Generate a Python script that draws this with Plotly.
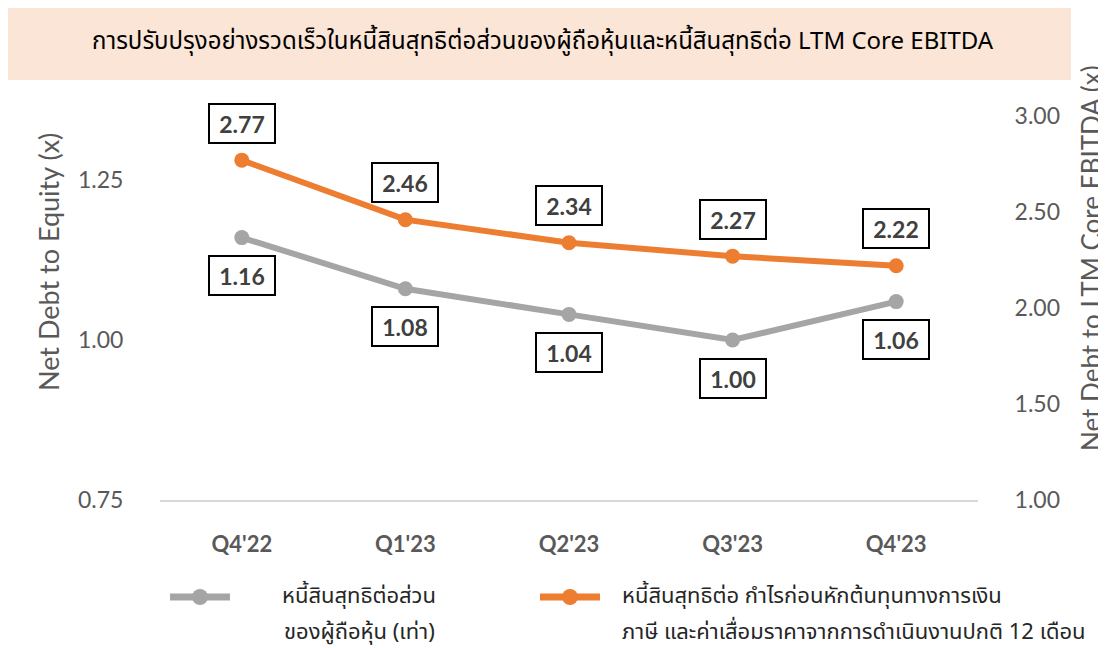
import plotly.graph_objects as go

categories = ["Q4'22", "Q1'23", "Q2'23", "Q3'23", "Q4'23"]
de_values = [1.16, 1.08, 1.04, 1.00, 1.06]
ebitda_values = [2.77, 2.46, 2.34, 2.27, 2.22]
left_ticks = [0.75, 1.00, 1.25]
right_ticks = [1.00, 1.50, 2.00, 2.50, 3.00]

title_text = "การปรับปรุงอย่างรวดเร็วในหนี้สินสุทธิต่อส่วนของผู้ถือหุ้นและหนี้สินสุทธิต่อ LTM Core EBITDA"
legend_de = ["หนี้สินสุทธิต่อส่วน", "ของผู้ถือหุ้น (เท่า)"]
legend_eb = ["หนี้สินสุทธิต่อ กำไรก่อนหักต้นทุนทางการเงิน",
             "ภาษี และค่าเสื่อมราคาจากการดำเนินงานปกติ 12 เดือน"]

GRAY = "#A5A5A5"
ORANGE = "#ED7D31"
OFF = 8  # browser body margin
W, H = 1106 - OFF, 648 - OFF
L, R, T, B = 160, 978, 84, 500  # plot area in screenshot pixels

def px(x):
    return (x - L) / (R - L)

def py(y):
    return (B - y) / (B - T)

NUMFONT = "Lato, 'Open Sans', sans-serif"
THAIFONT = "'Noto Sans Thai', 'Noto Sans', 'DejaVu Sans', sans-serif"
LBL = "#404040"

fig = go.Figure()
fig.add_trace(go.Scatter(x=categories, y=de_values, mode="lines+markers",
                         line=dict(color=GRAY, width=6), marker=dict(color=GRAY, size=15),
                         yaxis="y", showlegend=False, cliponaxis=False))
fig.add_trace(go.Scatter(x=categories, y=ebitda_values, mode="lines+markers",
                         line=dict(color=ORANGE, width=6), marker=dict(color=ORANGE, size=15),
                         yaxis="y2", showlegend=False, cliponaxis=False))

annotations = []
for c, v in zip(categories, ebitda_values):
    annotations.append(dict(x=c, y=v, xref="x", yref="y2", text="<b>%.2f</b>" % v,
                            showarrow=False, yshift=37, width=60, height=33,
                            font=dict(family=NUMFONT, size=23, color=LBL),
                            bordercolor="#000000", borderwidth=2, borderpad=2, bgcolor="white"))
for c, v in zip(categories, de_values):
    annotations.append(dict(x=c, y=v, xref="x", yref="y", text="<b>%.2f</b>" % v,
                            showarrow=False, yshift=-38, width=60, height=33,
                            font=dict(family=NUMFONT, size=23, color=LBL),
                            bordercolor="#000000", borderwidth=2, borderpad=2, bgcolor="white"))

# title
annotations.append(dict(x=px(543), y=py(42), xref="paper", yref="paper", text=title_text,
                        showarrow=False, font=dict(family=THAIFONT, size=24, color="#000000"),
                        xanchor="center", yanchor="middle"))
# axis titles
annotations.append(dict(x=px(48), y=py(262), xref="paper", yref="paper",
                        text="Net Debt to Equity (x)", textangle=-90, showarrow=False,
                        font=dict(family=NUMFONT, size=27, color="#595959"),
                        xanchor="center", yanchor="middle"))
annotations.append(dict(x=px(1091), y=py(258), xref="paper", yref="paper",
                        text="Net Debt to LTM Core EBITDA (x)", textangle=-90, showarrow=False,
                        font=dict(family=NUMFONT, size=26, color="#595959"),
                        xanchor="center", yanchor="middle"))
# legend texts
for t, yy in zip(legend_de, [596, 632]):
    annotations.append(dict(x=px(359), y=py(yy), xref="paper", yref="paper", text=t,
                            showarrow=False, xanchor="center", yanchor="middle",
                            font=dict(family=THAIFONT, size=22, color="#262626")))
for t, yy in zip(legend_eb, [596, 632]):
    annotations.append(dict(x=px(620), y=py(yy), xref="paper", yref="paper", text=t,
                            showarrow=False, xanchor="left", yanchor="middle",
                            font=dict(family=THAIFONT, size=22, color="#262626")))

shapes = [
    dict(type="rect", xref="paper", yref="paper", x0=px(7), x1=px(1071), y0=py(80), y1=py(7),
         fillcolor="#FBE5D6", line=dict(width=0), layer="below"),
    dict(type="line", xref="paper", yref="paper", x0=px(170), x1=px(230), y0=py(597), y1=py(597),
         line=dict(color=GRAY, width=7)),
    dict(type="circle", xref="paper", yref="paper", x0=px(192), x1=px(208), y0=py(605), y1=py(589),
         fillcolor=GRAY, line=dict(width=0)),
    dict(type="line", xref="paper", yref="paper", x0=px(540), x1=px(600), y0=py(597), y1=py(597),
         line=dict(color=ORANGE, width=7)),
    dict(type="circle", xref="paper", yref="paper", x0=px(562), x1=px(578), y0=py(605), y1=py(589),
         fillcolor=ORANGE, line=dict(width=0)),
]

fig.update_layout(
    width=W, height=H,
    margin=dict(l=L - OFF, r=W - (R - OFF), t=T - OFF, b=H - (B - OFF), pad=0),
    paper_bgcolor="white", plot_bgcolor="white",
    showlegend=False,
    xaxis=dict(categoryorder="array", categoryarray=categories, range=[-0.5, 4.5],
               showgrid=False, showline=True, linecolor="#D9D9D9", linewidth=2,
               ticks="outside", ticklen=24, tickcolor="rgba(0,0,0,0)",
               tickfont=dict(family=NUMFONT, size=22, color="#595959"),
               tickprefix="<b>", ticksuffix="</b>"),
    yaxis=dict(range=[0.75, 0.75 + (B - T) / 640.0], tickvals=left_ticks,
               tickformat=".2f", showgrid=False, zeroline=False,
               ticks="outside", ticklen=31, tickcolor="rgba(0,0,0,0)",
               tickfont=dict(family=NUMFONT, size=23, color="#595959")),
    yaxis2=dict(range=[1.0, 1.0 + (B - T) / 192.0], tickvals=right_ticks,
                tickformat=".2f", overlaying="y", side="right", showgrid=False, zeroline=False,
                ticks="outside", ticklen=31, tickcolor="rgba(0,0,0,0)",
                tickfont=dict(family=NUMFONT, size=23, color="#595959")),
    annotations=annotations,
    shapes=shapes,
)

fig.write_html("out.html")
